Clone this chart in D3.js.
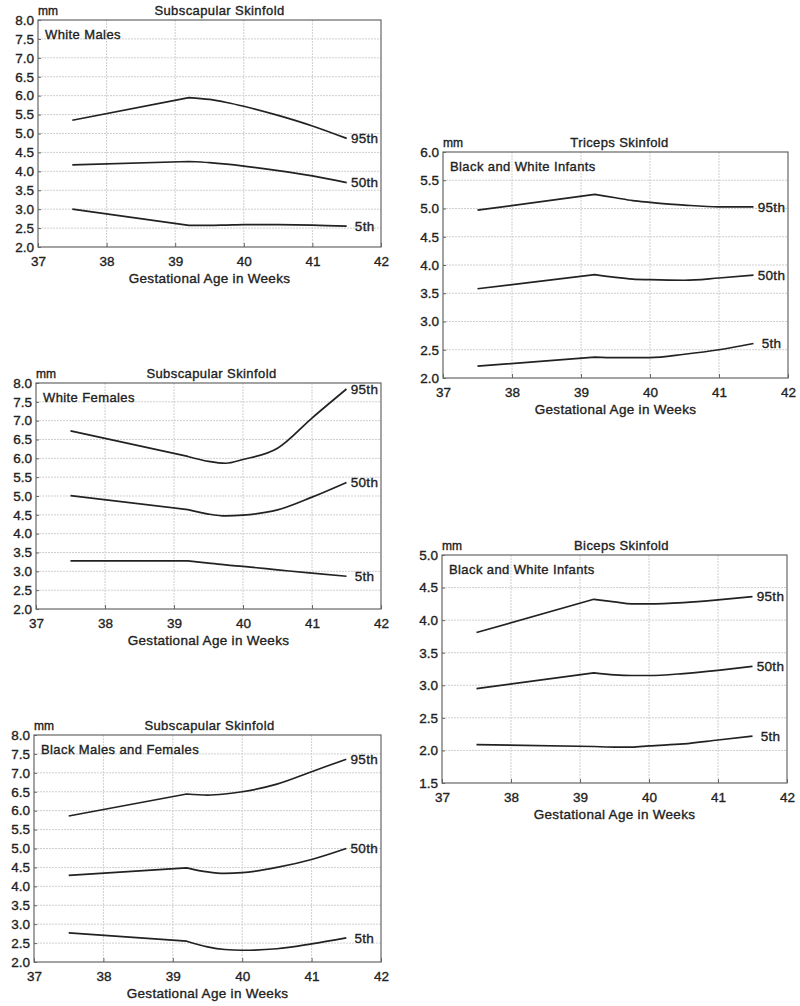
<!DOCTYPE html>
<html><head><meta charset="utf-8">
<script src="https://cdn.jsdelivr.net/npm/d3@7"></script>
<style>
html,body{margin:0;padding:0;background:#fff;}
svg{display:block;font-family:"Liberation Sans",Arial,Helvetica,sans-serif;}
svg text{stroke:#222;stroke-width:0.35px;}
</style></head>
<body>
<svg id="chart" width="800" height="1006"></svg>
<script>
// ---- data ----
const weeks = [37.5, 39.2, 39.5, 39.75, 40, 40.5, 41, 41.5];
const percentiles = ["95th", "50th", "5th"];
const xTicks = [37, 38, 39, 40, 41, 42];

const titles = ["Subscapular Skinfold", "Triceps Skinfold", "Subscapular Skinfold", "Biceps Skinfold", "Subscapular Skinfold"];
const groups = ["White Males", "Black and White Infants", "White Females", "Black and White Infants", "Black Males and Females"];

const whiteMales95 = [5.35, 5.95, 5.90, 5.82, 5.72, 5.48, 5.20, 4.87];
const whiteMales50 = [4.17, 4.26, 4.23, 4.19, 4.14, 4.02, 3.88, 3.70];
const whiteMales5  = [3.00, 2.57, 2.57, 2.58, 2.59, 2.59, 2.58, 2.55];

const triceps95 = [4.97, 5.25, 5.19, 5.14, 5.11, 5.06, 5.03, 5.03];
const triceps50 = [3.58, 3.83, 3.78, 3.75, 3.74, 3.73, 3.77, 3.82];
const triceps5  = [2.21, 2.37, 2.36, 2.36, 2.36, 2.42, 2.50, 2.61];

const whiteFemales95 = [6.73, 6.05, 5.92, 5.87, 5.97, 6.27, 7.07, 7.84];
const whiteFemales50 = [5.01, 4.64, 4.52, 4.47, 4.49, 4.63, 4.97, 5.36];
const whiteFemales5  = [3.28, 3.28, 3.22, 3.17, 3.13, 3.04, 2.95, 2.87];

const biceps95 = [3.81, 4.32, 4.28, 4.25, 4.25, 4.27, 4.31, 4.36];
const biceps50 = [2.95, 3.19, 3.16, 3.15, 3.15, 3.18, 3.23, 3.29];
const biceps5  = [2.09, 2.06, 2.05, 2.05, 2.07, 2.10, 2.16, 2.22];

const black95 = [5.86, 6.44, 6.41, 6.44, 6.50, 6.70, 7.03, 7.36];
const black50 = [4.29, 4.49, 4.38, 4.34, 4.36, 4.50, 4.71, 5.00];
const black5  = [2.77, 2.55, 2.40, 2.33, 2.31, 2.35, 2.48, 2.64];

const subscapTicks = [2.0, 2.5, 3.0, 3.5, 4.0, 4.5, 5.0, 5.5, 6.0, 6.5, 7.0, 7.5, 8.0];
const tricepsTicks = [2.0, 2.5, 3.0, 3.5, 4.0, 4.5, 5.0, 5.5, 6.0];
const bicepsTicks  = [1.5, 2.0, 2.5, 3.0, 3.5, 4.0, 4.5, 5.0];

// ---- layout ----
const panels = [
  {box:[38, 20, 381, 247],  yTicks: subscapTicks, series:[whiteMales95, whiteMales50, whiteMales5], titleDx: 10},
  {box:[443, 152, 788, 378], yTicks: tricepsTicks, series:[triceps95, triceps50, triceps5], titleDx: 4},
  {box:[36, 383, 381, 609], yTicks: subscapTicks, series:[whiteFemales95, whiteFemales50, whiteFemales5], titleDx: 3},
  {box:[442, 555, 787, 783], yTicks: bicepsTicks, series:[biceps95, biceps50, biceps5], titleDx: 7},
  {box:[34, 735, 381, 962], yTicks: subscapTicks, series:[black95, black50, black5], titleDx: 2}
];

const svg = d3.select("#chart");
const ink = "#222";
const fs = "13.5px";

panels.forEach((p, i) => {
  const [x0, y0, x1, y1] = p.box;
  const x = d3.scaleLinear().domain([37, 42]).range([x0, x1]);
  const y = d3.scaleLinear().domain(d3.extent(p.yTicks)).range([y1, y0]);
  const g = svg.append("g");

  // grid
  g.append("g").selectAll("line.gx").data(xTicks.slice(1, -1)).join("line")
    .attr("x1", d => x(d)).attr("x2", d => x(d)).attr("y1", y0).attr("y2", y1)
    .attr("stroke", "#cfcfcf").attr("stroke-width", 1).attr("stroke-dasharray", "2,1");
  g.append("g").selectAll("line.gy").data(p.yTicks.slice(1, -1)).join("line")
    .attr("x1", x0).attr("x2", x1).attr("y1", d => y(d)).attr("y2", d => y(d))
    .attr("stroke", "#cfcfcf").attr("stroke-width", 1).attr("stroke-dasharray", "2,1");

  // axes
  const xa = g.append("g").attr("transform", `translate(0,${y1})`)
    .call(d3.axisBottom(x).tickValues(xTicks).tickSize(-4).tickPadding(9).tickFormat(d3.format("d")));
  const ya = g.append("g").attr("transform", `translate(${x0},0)`)
    .call(d3.axisLeft(y).tickValues(p.yTicks).tickSize(-3).tickPadding(4).tickFormat(d3.format(".1f")));
  [xa, ya].forEach(a => {
    a.select(".domain").remove();
    a.selectAll(".tick line").attr("stroke", "#666");
    a.selectAll(".tick text").attr("fill", ink).style("font-size", fs).style("font-family", "Liberation Sans, Arial, sans-serif");
  });
  xa.selectAll(".tick text").attr("dy", "0.71em");

  // frame
  g.append("rect").attr("x", x0).attr("y", y0).attr("width", x1 - x0).attr("height", y1 - y0)
    .attr("fill", "none").attr("stroke", "#666").attr("stroke-width", 1.2);

  // lines: straight segment from the first reading, smooth curve afterwards
  const curve = d3.line().x(d => x(d[0])).y(d => y(d[1])).curve(d3.curveMonotoneX);
  p.series.forEach((s, k) => {
    const pts = s.map((v, j) => [weeks[j], v]);
    const tail = curve(pts.slice(1));
    const d = `M${x(pts[0][0])},${y(pts[0][1])}L` + tail.slice(1);
    g.append("path").attr("d", d)
      .attr("fill", "none").attr("stroke", ink).attr("stroke-width", 1.7).attr("stroke-linejoin", "round");
    g.append("text").attr("x", x(weeks[weeks.length - 1]) + 18).attr("y", y(s[s.length - 1]))
      .attr("dy", "0.35em").attr("text-anchor", "middle")
      .attr("fill", ink).style("font-size", fs).style("letter-spacing", "0.3px").text(percentiles[k]);
  });

  // texts
  g.append("text").attr("x", x0).attr("y", y0 - 5).attr("fill", ink)
    .style("font-size", "12px").text("mm");
  g.append("text").attr("x", (x0 + x1) / 2 + p.titleDx).attr("y", y0 - 5).attr("text-anchor", "middle")
    .attr("fill", ink).style("font-size", "13px").style("letter-spacing", "0.4px").text(titles[i]);
  g.append("text").attr("x", x0 + 7).attr("y", y0 + 19).attr("fill", ink)
    .style("font-size", "13px").style("letter-spacing", "0.4px").text(groups[i]);
  g.append("text").attr("x", (x0 + x1) / 2).attr("y", y1 + 36).attr("text-anchor", "middle")
    .attr("fill", ink).style("font-size", "13.5px").style("letter-spacing", "0.3px").text("Gestational Age in Weeks");
});
</script>
</body></html>
